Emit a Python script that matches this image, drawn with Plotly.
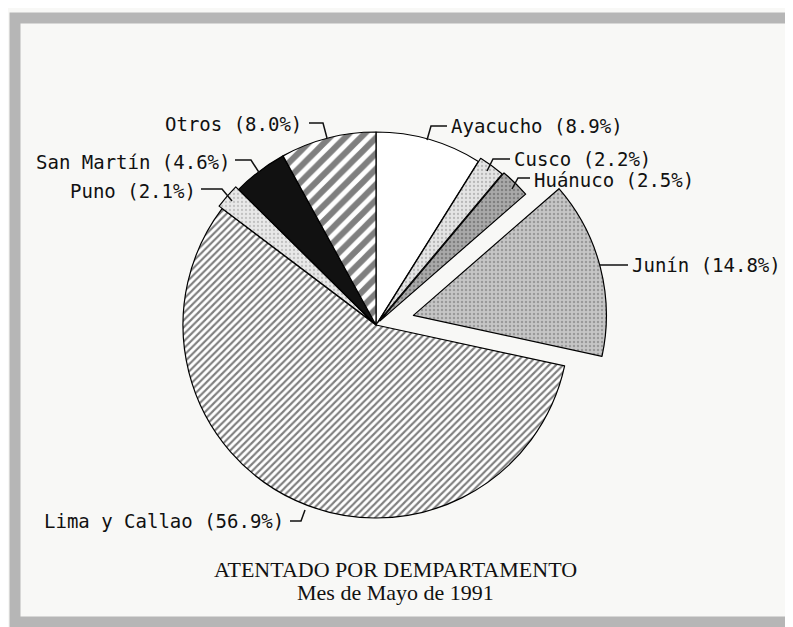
import plotly.graph_objects as go

# page body adds an 8px margin, so the figure is 8px smaller than the window
OFF = 8
W, H = 793 - OFF, 627 - OFF

# data, clockwise from 12 o'clock
departamentos = ["Ayacucho", "Cusco", "Huánuco", "Junín", "Lima y Callao",
                 "Puno", "San Martín", "Otros"]
porcentajes = [8.9, 2.2, 2.5, 14.8, 56.9, 2.1, 4.6, 8.0]

titulo = "ATENTADO POR DEMPARTAMENTO"
subtitulo = "Mes de Mayo de 1991"

# look of each slice
pulls = [0, 0.02, 0.03, 0.2, 0, 0.02, 0, 0]
fills = ["white", "#e4e4e4", "#a9a9a9", "#c6c6c6", "white", "#e8e8e8", "#111111", "white"]
shapes_pat = ["", ".", ".", ".", "/", ".", "", "/"]
fg_pat = ["black", "#8c8c8c", "#555555", "#6e6e6e", "#000000", "#9c9c9c", "black", "black"]
size_pat = [8, 4, 4, 4, 5, 4, 8, 11]
solid_pat = [0.3, 0.25, 0.3, 0.3, 0.42, 0.25, 0.3, 0.55]

# label placement (window pixels): x, y, anchor
label_pos = [(449, 126, "left"), (512, 159, "left"), (532, 180, "left"),
             (630, 265, "left"), (286, 521, "right"), (198, 191, "right"),
             (232, 162, "right"), (304, 124, "right")]
leaders = [
    [(447, 126), (431, 126), (427, 140)],
    [(510, 159), (493, 159), (487, 171)],
    [(530, 178), (518, 178), (512, 189)],
    [(628, 265), (600, 265)],
    [(290, 521), (301, 521), (305, 510)],
    [(201, 189), (222, 189), (232, 201)],
    [(235, 160), (251, 160), (260, 174)],
    [(309, 123), (323, 123), (327, 138)],
]


def px(x):
    return (x - OFF) / W


def py(y):
    return 1 - (y - OFF) / H


fig = go.Figure(go.Pie(
    labels=departamentos,
    values=porcentajes,
    sort=False,
    direction="clockwise",
    rotation=0,
    pull=pulls,
    textinfo="none",
    showlegend=False,
    domain=dict(x=[px(144.4), px(607.6)], y=[py(556.6), py(93.4)]),
    marker=dict(
        colors=fills,
        line=dict(color="black", width=1.2),
        pattern=dict(shape=shapes_pat, fgcolor=fg_pat, bgcolor=fills,
                     size=size_pat, solidity=solid_pat, fillmode="overlay"),
    ),
))

for name, pct, (x, y, anchor) in zip(departamentos, porcentajes, label_pos):
    fig.add_annotation(x=px(x), y=py(y), xref="paper", yref="paper",
                       text=f"{name} ({pct:.1f}%)", showarrow=False,
                       xanchor=anchor, yanchor="middle",
                       font=dict(family="DejaVu Sans Mono", size=19, color="#111111"))

for pts in leaders:
    path = "M " + " L ".join(f"{px(x)},{py(y)}" for x, y in pts)
    fig.add_shape(type="path", path=path, xref="paper", yref="paper",
                  line=dict(color="#111111", width=1.5))

fig.add_annotation(x=px(395), y=py(569), xref="paper", yref="paper",
                   text=titulo, showarrow=False, yanchor="middle",
                   font=dict(family="Liberation Serif", size=22, color="#111111"))
fig.add_annotation(x=px(395), y=py(592), xref="paper", yref="paper",
                   text=subtitulo, showarrow=False, yanchor="middle",
                   font=dict(family="Liberation Serif", size=22, color="#111111"))

# halftone frame
fig.add_shape(type="rect", xref="paper", yref="paper",
              x0=px(15), y0=py(622), x1=px(792), y1=py(18),
              line=dict(color="#b6b6b6", width=11))

fig.update_layout(
    width=W, height=H,
    margin=dict(l=0, r=0, t=0, b=0),
    paper_bgcolor="#f8f8f6",
    plot_bgcolor="#f8f8f6",
)

fig.write_html("out.html")
